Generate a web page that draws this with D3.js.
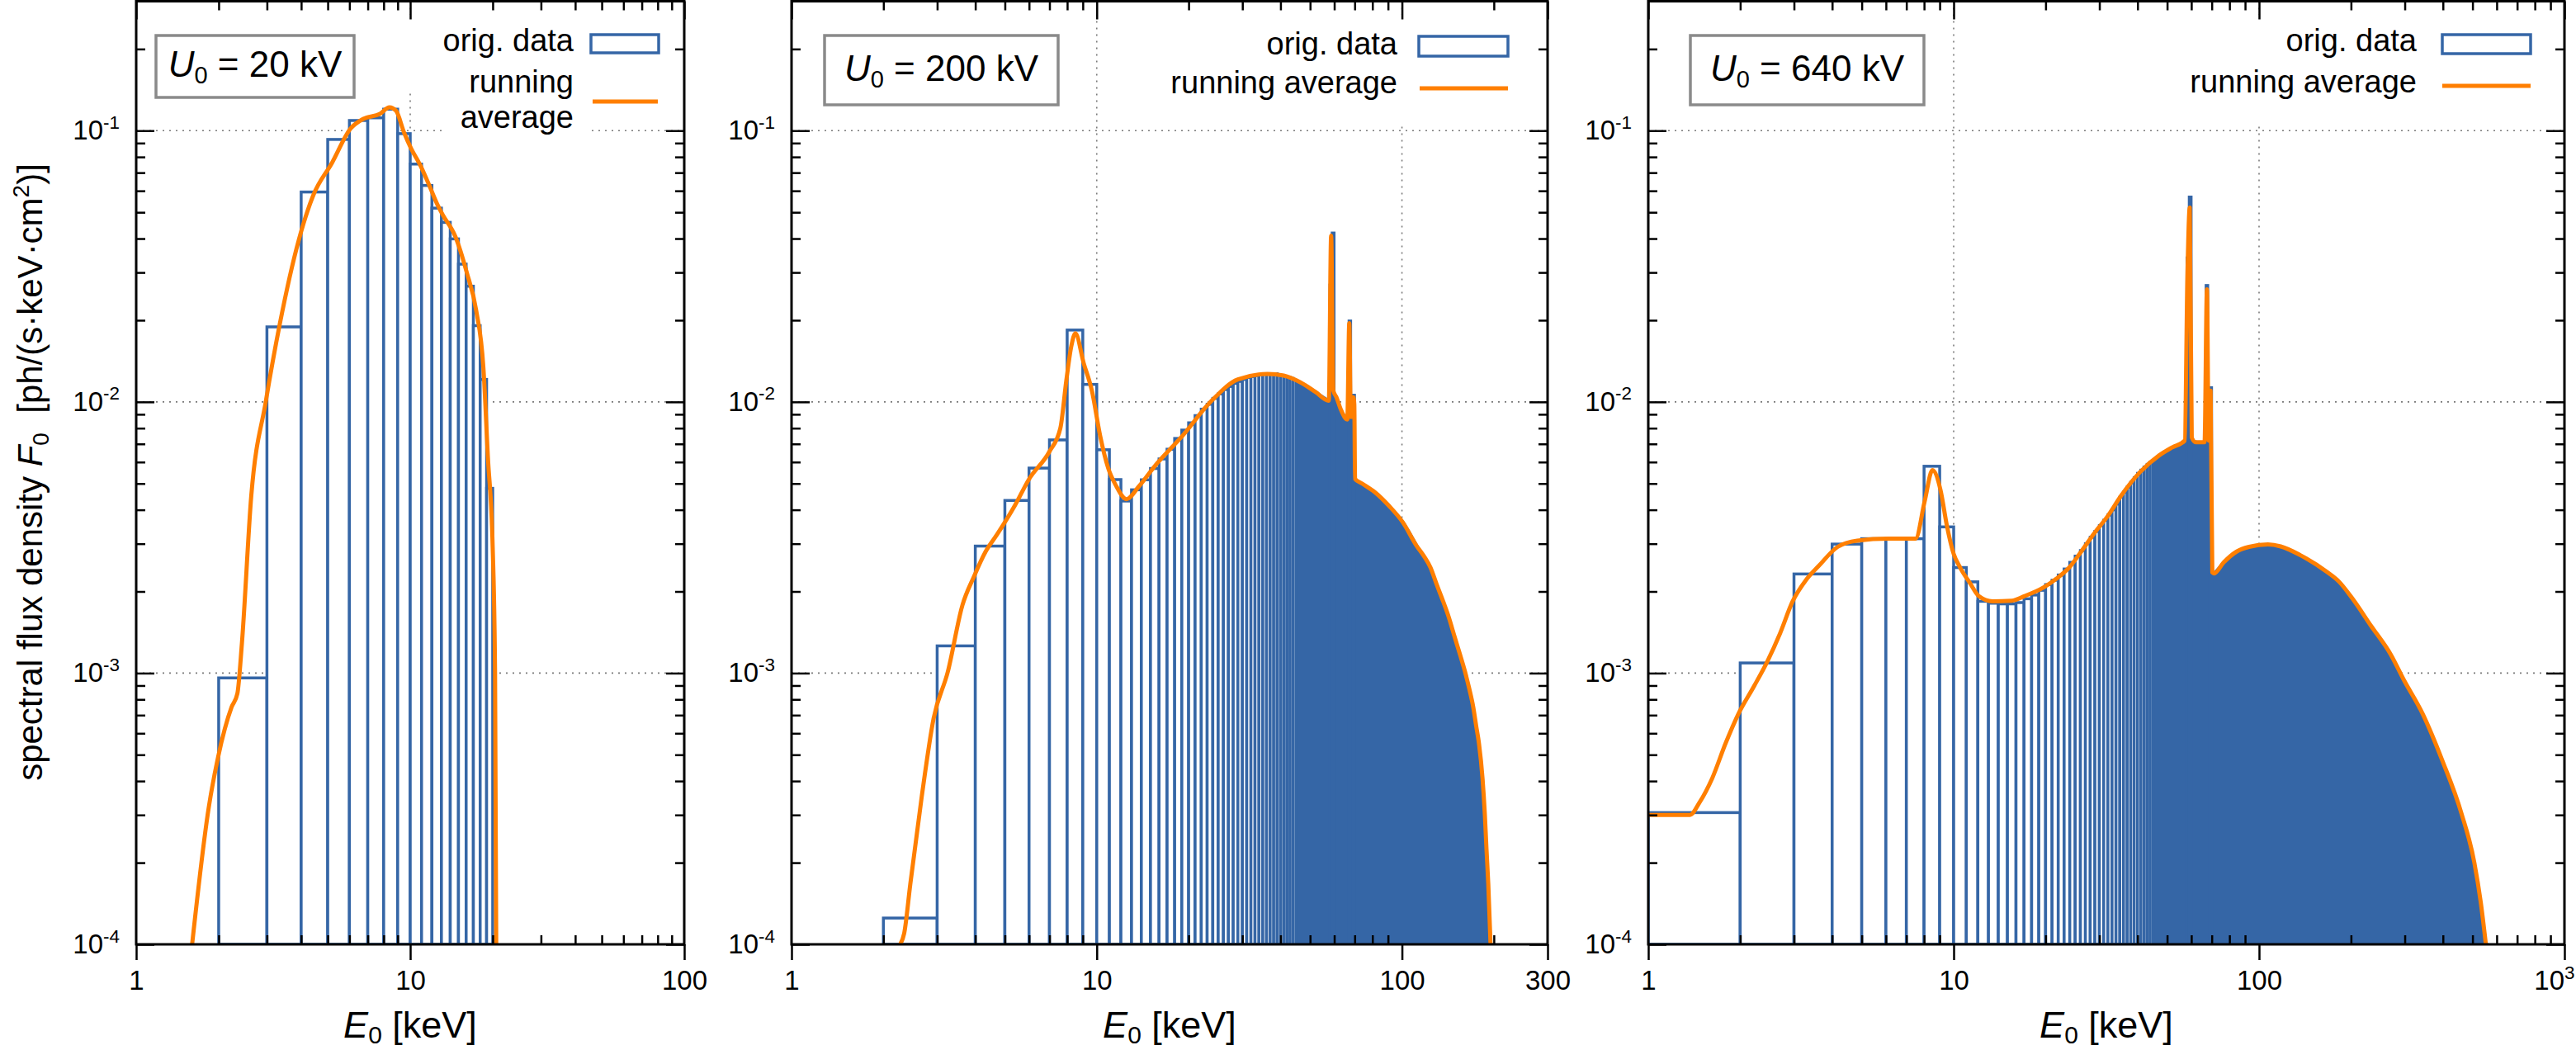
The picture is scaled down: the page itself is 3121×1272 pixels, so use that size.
<!DOCTYPE html>
<html>
<head>
<meta charset="utf-8">
<title>Spectral flux density</title>
<script src="https://cdn.jsdelivr.net/npm/d3@7"></script>
<style>
  body { margin: 0; background: #fff; }
  svg text { font-family: "Liberation Sans", Arial, sans-serif; fill: #000; }
</style>
</head>
<body>
<svg id="chart" width="3121" height="1272"></svg>
<script>
// ---------- data ----------
var binWidth = 1; // keV

// U0 = 20 kV
var bin1Lo  = [2, 3, 4, 5, 6, 7, 8, 9, 10, 11, 12, 13, 14, 15, 16, 17, 18, 19];
var bin1Val = [9.6e-4, 0.0189, 0.0594, 0.0928, 0.109, 0.1115, 0.120, 0.0975, 0.0753, 0.0628,
               0.0518, 0.0459, 0.0399, 0.0322, 0.0267, 0.0191, 0.0121, 0.0048];
var avg1E = [1.6, 1.84, 1.99, 2.23, 2.34, 2.43, 2.63, 2.97, 3.34, 3.92, 4.42, 5.18, 6.07, 6.74,
             7.75, 8.4, 8.87, 9.5, 10.1, 10.9, 11.7, 12.6, 13.15, 14.6, 16.1, 17.4, 18.5, 19.2,
             20.0, 20.4, 20.6];
var avg1V = [1.0e-4, 3.2e-4, 4.9e-4, 7.5e-4, 8.4e-4, 1.28e-3, 4.5e-3, 1.0e-2, 1.93e-2, 3.95e-2,
             5.75e-2, 7.6e-2, 0.102, 0.1105, 0.1153, 0.1219, 0.1185, 0.0983, 0.0855, 0.0743,
             0.0633, 0.0531, 0.0489, 0.0408, 0.0299, 0.0218, 0.0133, 6.3e-3, 2.9e-3, 1.0e-3, 1.0e-4];

// U0 = 200 kV
var bin2Lo  = [2, 3, 4, 5, 6, 7, 8, 9, 10, 11, 12, 13, 14, 15, 16, 17, 18, 19, 20, 21, 22, 23,
               24, 25, 26, 27, 28, 29, 30, 31, 32, 33, 34, 35, 36, 37, 38, 39, 40, 41, 42, 43, 44];
var bin2Val = [1.25e-4, 1.26e-3, 2.94e-3, 4.33e-3, 5.70e-3, 7.24e-3, 0.0184, 0.0116, 6.66e-3,
               5.17e-3, 4.31e-3, 4.74e-3, 5.16e-3, 5.68e-3, 6.16e-3, 6.69e-3, 7.33e-3, 7.87e-3,
               8.37e-3, 8.9e-3, 9.4e-3, 9.8e-3, 0.0103, 0.0107, 0.0111, 0.0114, 0.0117, 0.0119,
               0.0121, 0.0123, 0.0124, 0.0125, 0.0126, 0.0127, 0.0127, 0.0127, 0.0127, 0.0126,
               0.0125, 0.0124, 0.0123, 0.0122, 0.0120];
var spike2Lo  = [58, 59, 67, 69];
var spike2Val = [0.027, 0.042, 0.0199, 0.0106];
var dense2E = [45, 48, 51, 54, 57, 58, 60, 61, 62, 64, 66, 68, 69.9, 70, 74, 78, 82, 86, 91, 96,
               101, 106, 112, 118, 124, 130, 136, 142, 149, 155, 161, 166, 171, 175, 179, 184,
               187, 189, 192, 195, 197];
var dense2V = [0.0119, 0.0116, 0.0111, 0.0106, 0.0102, 0.0101, 0.0105, 0.0100, 0.0097, 0.0091,
               0.0087, 0.0086, 0.0086, 0.0052, 0.0050, 0.0048, 0.00463, 0.0044, 0.00413, 0.00385,
               0.0036, 0.0033, 0.00295, 0.0027, 0.00245, 0.00212, 0.00184, 0.00161, 0.00136,
               0.00117, 0.00101, 8.8e-4, 7.5e-4, 6.4e-4, 5.5e-4, 4.1e-4, 3.0e-4, 2.25e-4, 1.67e-4,
               1.0e-4, 7e-5];
var avg2E = [2.27, 2.34, 2.45, 2.67, 2.92, 3.25, 3.63, 3.96, 4.32, 4.72, 5.38, 6.0, 7.0, 7.6,
             7.95, 8.25, 8.51, 9.06, 9.64, 10.26, 10.9, 11.6, 12.5, 13.74, 15.5, 19.1, 23.6, 29,
             36.3, 41, 46.5, 52, 57.6, 58.6, 59.6, 61, 63, 66.2, 67.2, 68, 68.8, 69.3, 69.8, 70.2,
             74, 81.8, 90.8, 100.6, 111.6, 118, 124, 130, 136.4, 142.3, 148.8, 155, 161, 166,
             171.2, 175, 178.8, 183.6, 186.8, 189.2, 191.8, 195.1];
var avg2V = [1.0e-4, 1.1e-4, 1.67e-4, 3.5e-4, 6.8e-4, 1.01e-3, 1.78e-3, 2.27e-3, 2.8e-3, 3.25e-3,
             4.13e-3, 5.19e-3, 6.56e-3, 8.0e-3, 1.2e-2, 1.6e-2, 1.79e-2, 1.39e-2, 1.1e-2, 7.5e-3,
             5.7e-3, 4.88e-3, 4.38e-3, 4.88e-3, 5.8e-3, 7.5e-3, 1.0e-2, 1.21e-2, 1.268e-2, 1.25e-2,
             1.18e-2, 1.09e-2, 1.01e-2, 0.041, 0.011, 0.0104, 0.0094, 0.0086, 0.0195, 0.0088,
             0.0088, 0.0104, 0.0098, 5.2e-3, 5.0e-3, 4.63e-3, 4.13e-3, 3.6e-3, 2.95e-3, 2.7e-3,
             2.45e-3, 2.12e-3, 1.84e-3, 1.61e-3, 1.36e-3, 1.17e-3, 1.01e-3, 8.8e-4, 7.5e-4,
             6.4e-4, 5.5e-4, 4.1e-4, 3.04e-4, 2.25e-4, 1.67e-4, 1.0e-4];

// U0 = 640 kV
var bin3Lo  = [1, 2, 3, 4, 5, 6, 7, 8, 9, 10, 11, 12, 13, 14, 15, 16, 17, 18, 19, 20, 21, 22,
               23, 24, 25, 26, 27, 28, 29, 30, 31, 32, 33, 34, 35, 36, 37, 38, 39, 40, 41, 42,
               43, 44];
var bin3Val = [3.06e-4, 1.09e-3, 2.32e-3, 2.99e-3, 3.13e-3, 3.13e-3, 3.13e-3, 5.79e-3, 3.46e-3,
               2.45e-3, 2.17e-3, 1.84e-3, 1.81e-3, 1.80e-3, 1.80e-3, 1.82e-3, 1.88e-3, 1.94e-3,
               2.02e-3, 2.12e-3, 2.20e-3, 2.30e-3, 2.42e-3, 2.56e-3, 2.70e-3, 2.83e-3, 3.00e-3,
               3.17e-3, 3.33e-3, 3.50e-3, 3.66e-3, 3.83e-3, 4.00e-3, 4.20e-3, 4.45e-3, 4.65e-3,
               4.85e-3, 5.05e-3, 5.25e-3, 5.45e-3, 5.60e-3, 5.75e-3, 5.88e-3, 6.00e-3];
var spike3Lo  = [58, 59, 67, 69];
var spike3Val = [0.034, 0.057, 0.0269, 0.0113];
var dense3E = [45, 47, 50, 53, 56, 60, 63, 66, 69.9, 70, 71, 76.6, 84.2, 92.7, 107, 117.8, 136.6,
               166, 183, 201, 233, 270, 297, 344, 398, 460, 507, 532, 553, 558];
var dense3V = [6.1e-3, 6.35e-3, 6.6e-3, 6.85e-3, 7.1e-3, 7.2e-3, 7.1e-3, 7.1e-3, 7.1e-3, 2.35e-3,
               2.33e-3, 2.56e-3, 2.8e-3, 2.92e-3, 2.98e-3, 2.93e-3, 2.72e-3, 2.37e-3, 2.17e-3,
               1.90e-3, 1.49e-3, 1.17e-3, 9.5e-4, 7.05e-4, 4.77e-4, 3.04e-4, 2.0e-4, 1.43e-4,
               1.0e-4, 8e-5];
var avg3E = [1.0, 1.37, 1.47, 1.62, 1.79, 1.97, 2.22, 2.45, 2.70, 2.97, 3.28, 3.61, 4.17, 4.83,
             6.16, 7.5, 8.04, 8.52, 9.06, 9.5, 10.0, 10.5, 11.3, 12.1, 13.4, 15.5, 17.0, 19.7,
             21.7, 23.9, 26.3, 29.0, 32, 35.3, 40.7, 47.1, 52, 57.1, 58.3, 59.3, 60.2, 62, 66.3,
             67.5, 68.4, 69.4, 70.3, 71.2, 76.6, 84.2, 92.7, 107, 117.8, 136.6, 166, 183, 201,
             233, 270, 297, 344, 398, 460, 507, 532, 553];
var avg3V = [3.0e-4, 3.0e-4, 3.33e-4, 4.1e-4, 5.5e-4, 7.05e-4, 8.95e-4, 1.10e-3, 1.40e-3, 1.84e-3,
             2.2e-3, 2.48e-3, 2.92e-3, 3.08e-3, 3.13e-3, 3.13e-3, 4.31e-3, 5.6e-3, 4.72e-3, 3.5e-3,
             2.75e-3, 2.45e-3, 2.15e-3, 1.92e-3, 1.84e-3, 1.85e-3, 1.92e-3, 2.07e-3, 2.23e-3,
             2.45e-3, 2.83e-3, 3.3e-3, 3.8e-3, 4.5e-3, 5.5e-3, 6.35e-3, 6.8e-3, 7.2e-3, 0.030,
             0.052, 7.4e-3, 7.1e-3, 7.1e-3, 0.026, 7.2e-3, 0.0110, 2.35e-3, 2.33e-3, 2.56e-3,
             2.8e-3, 2.92e-3, 2.98e-3, 2.93e-3, 2.72e-3, 2.37e-3, 2.17e-3, 1.90e-3, 1.49e-3,
             1.17e-3, 9.5e-4, 7.05e-4, 4.77e-4, 3.04e-4, 2.0e-4, 1.43e-4, 1.0e-4];

// axes
var tubeVoltage = ["20 kV", "200 kV", "640 kV"];
var xTickVals = [[1, 10, 100], [1, 10, 100, 300], [1, 10, 100, 1000]];
var xTickText = [["1", "10", "100"], ["1", "10", "100", "300"], ["1", "10", "100", "10^3"]];
var yTickVals = [1e-4, 1e-3, 1e-2, 1e-1];
var yTickText = ["10^-4", "10^-3", "10^-2", "10^-1"];

// ---------- layout ----------
var W = 3121;
var blue = "#3566a6", orange = "#ff7f00", gridGray = "#7a7a7a";
var yTop = 1.5, yBot = 1144;
var y = d3.scaleLog().domain([1e-4, 0.3]).range([yBot, yTop]);

var panels = [
  { x0: 165, x1: 829, bins: d3.zip(bin1Lo, bin1Val), spikes: [], dense: [],
    avg: d3.zip(avg1E, avg1V),
    box: [189, 43, 240, 75], boxBase: 93,
    key: { bg: [485, 18, 325, 95], textRight: 695, row1: 62, rect: [716, 42, 82, 22],
           lines: ["running", "average"], lineBase: [112, 155], lineY: 123, lineX: [718, 797] } },
  { x0: 959, x1: 1875, bins: d3.zip(bin2Lo, bin2Val), spikes: d3.zip(spike2Lo, spike2Val),
    dense: d3.zip(dense2E, dense2V), avg: d3.zip(avg2E, avg2V),
    box: [999, 43, 283, 84], boxBase: 98,
    key: { bg: [1380, 18, 470, 134], textRight: 1693, row1: 66, rect: [1719, 44, 108, 24],
           lines: ["running average"], lineBase: [113], lineY: 107, lineX: [1720, 1827] } },
  { x0: 1997, x1: 3107, bins: d3.zip(bin3Lo, bin3Val), spikes: d3.zip(spike3Lo, spike3Val),
    dense: d3.zip(dense3E, dense3V), avg: d3.zip(avg3E, avg3V),
    box: [2048, 43, 283, 84], boxBase: 98,
    key: { bg: [2615, 18, 470, 134], textRight: 2928, row1: 62, rect: [2959, 42, 107, 23],
           lines: ["running average"], lineBase: [112], lineY: 104, lineX: [2959, 3066] } }
];

var svg = d3.select("#chart");

// writes "10^-3" as base + superscript
function supLabel(sel, str) {
  var parts = str.split("^");
  sel.text(null);
  sel.append("tspan").text(parts[0]);
  if (parts[1]) sel.append("tspan").attr("dy", "-0.6em").attr("font-size", "0.68em").text(parts[1]);
}

function minorTicks(dom) {
  var out = [];
  for (var p = 1; p < dom[1]; p *= 10)
    for (var m = 2; m <= 9; m++)
      if (m * p < dom[1] - 1e-9) out.push(m * p);
  return out;
}

var yMinor = [];
[1e-4, 1e-3, 1e-2, 1e-1].forEach(function (p) {
  for (var m = 2; m <= 9; m++) if (m * p < 0.299) yMinor.push(m * p);
});

panels.forEach(function (p, i) {
  var x = d3.scaleLog().domain([1, xTickVals[i][xTickVals[i].length - 1]]).range([p.x0, p.x1]);
  var g = svg.append("g");

  g.append("clipPath").attr("id", "clip" + i)
    .append("rect").attr("x", p.x0).attr("y", yTop).attr("width", p.x1 - p.x0).attr("height", yBot - yTop);

  // grid
  var grid = g.append("g").attr("stroke", gridGray).attr("stroke-width", 1.6).attr("stroke-dasharray", "2,6");
  [1e-1, 1e-2, 1e-3].forEach(function (v) {
    grid.append("line").attr("x1", p.x0).attr("x2", p.x1).attr("y1", y(v)).attr("y2", y(v));
  });
  xTickVals[i].slice(1, -1).forEach(function (v) {
    grid.append("line").attr("x1", x(v)).attr("x2", x(v)).attr("y1", yTop).attr("y2", yBot);
  });

  var data = g.append("g").attr("clip-path", "url(#clip" + i + ")");

  // original data: 1 keV boxes
  data.selectAll("rect.bin").data(p.bins).enter().append("rect").attr("class", "bin")
    .attr("x", function (d) { return x(d[0]); })
    .attr("width", function (d) { return x(d[0] + binWidth) - x(d[0]); })
    .attr("y", function (d) { return y(d[1]); })
    .attr("height", function (d) { return yBot - y(d[1]); })
    .attr("fill", "#fff").attr("stroke", blue).attr("stroke-width", 3.5);

  // densely packed boxes at high energy merge into a solid area
  if (p.dense.length) {
    var area = d3.area().x(function (d) { return x(d[0]); }).y0(yBot).y1(function (d) { return y(d[1]); });
    data.append("path").datum(p.dense).attr("d", area)
      .attr("fill", blue).attr("stroke", blue).attr("stroke-width", 3);
  }
  data.selectAll("rect.spike").data(p.spikes).enter().append("rect").attr("class", "spike")
    .attr("x", function (d) { return x(d[0]); })
    .attr("width", function (d) { return x(d[0] + binWidth) - x(d[0]); })
    .attr("y", function (d) { return y(d[1]); })
    .attr("height", function (d) { return yBot - y(d[1]); })
    .attr("fill", blue).attr("stroke", blue).attr("stroke-width", 3);

  // running average
  var line = d3.line().x(function (d) { return x(d[0]); }).y(function (d) { return y(d[1]); })
    .curve(d3.curveMonotoneX);
  data.append("path").datum(p.avg).attr("d", line)
    .attr("fill", "none").attr("stroke", orange).attr("stroke-width", 5).attr("stroke-linejoin", "round");

  // key
  var k = p.key;
  var kg = g.append("g");
  kg.append("rect").attr("x", k.bg[0]).attr("y", k.bg[1]).attr("width", k.bg[2]).attr("height", k.bg[3]).attr("fill", "#fff");
  var kt = kg.append("g").attr("font-size", 38).attr("text-anchor", "end");
  kt.append("text").attr("x", k.textRight).attr("y", k.row1).text("orig. data");
  k.lines.forEach(function (s, j) {
    kt.append("text").attr("x", k.textRight).attr("y", k.lineBase[j]).text(s);
  });
  kt.selectAll("text").each(function () {
    var b = this.getBBox();
    kg.insert("rect", "g").attr("x", b.x - 18).attr("y", b.y).attr("width", b.width + 36)
      .attr("height", b.height).attr("fill", "#fff");
  });
  kg.append("rect").attr("x", k.rect[0]).attr("y", k.rect[1]).attr("width", k.rect[2]).attr("height", k.rect[3])
    .attr("fill", "#fff").attr("stroke", blue).attr("stroke-width", 3.5);
  kg.append("line").attr("x1", k.lineX[0]).attr("x2", k.lineX[1]).attr("y1", k.lineY).attr("y2", k.lineY)
    .attr("stroke", orange).attr("stroke-width", 5);

  // tube voltage box
  g.append("rect").attr("x", p.box[0]).attr("y", p.box[1]).attr("width", p.box[2]).attr("height", p.box[3])
    .attr("fill", "#fff").attr("stroke", "#8a8a8a").attr("stroke-width", 3.5);
  var ut = g.append("text").attr("x", p.box[0] + p.box[2] / 2).attr("y", p.boxBase)
    .attr("text-anchor", "middle").attr("font-size", 44);
  ut.append("tspan").attr("font-style", "italic").text("U");
  ut.append("tspan").attr("font-size", 29).attr("dy", 8).text("0");
  ut.append("tspan").attr("dy", -8).text(" = " + tubeVoltage[i]);

  // frame
  g.append("rect").attr("x", p.x0).attr("y", yTop).attr("width", p.x1 - p.x0).attr("height", yBot - yTop)
    .attr("fill", "none").attr("stroke", "#000").attr("stroke-width", 3);

  // ticks
  var xMinor = minorTicks(x.domain());
  var axes = g.append("g");
  function tickAxis(axis, tx, ty) {
    var a = axes.append("g").attr("transform", "translate(" + tx + "," + ty + ")").call(axis)
      .attr("font-size", 33).attr("font-family", null);
    a.select(".domain").remove();
    a.selectAll("line").attr("stroke-width", 2.5);
    return a;
  }
  var bx = tickAxis(d3.axisBottom(x).tickValues(xTickVals[i]).tickSize(19).tickPadding(13)
    .tickFormat(function (d, j) { return xTickText[i][j]; }), 0, yBot);
  bx.selectAll(".tick text").each(function (d, j) {
    supLabel(d3.select(this), xTickText[i][j]);
    // keep the last label inside the picture
    var b = this.getBBox(), over = x(d) + b.x + b.width - (W - 2);
    if (over > 0) d3.select(this).attr("x", -over);
  });
  tickAxis(d3.axisTop(x).tickValues(xMinor).tickSize(11).tickFormat(""), 0, yBot);
  tickAxis(d3.axisBottom(x).tickValues(xTickVals[i]).tickSize(22).tickFormat(""), 0, yTop);
  tickAxis(d3.axisBottom(x).tickValues(xMinor).tickSize(11).tickFormat(""), 0, yTop);
  tickAxis(d3.axisRight(y).tickValues(yTickVals).tickSize(22).tickFormat(""), p.x0, 0);
  tickAxis(d3.axisRight(y).tickValues(yMinor).tickSize(11).tickFormat(""), p.x0, 0);
  tickAxis(d3.axisLeft(y).tickValues(yTickVals).tickSize(22).tickFormat(""), p.x1, 0);
  tickAxis(d3.axisLeft(y).tickValues(yMinor).tickSize(11).tickFormat(""), p.x1, 0);
  var ly = tickAxis(d3.axisLeft(y).tickValues(yTickVals).tickSize(0).tickPadding(20)
    .tickFormat(function (d, j) { return yTickText[j]; }), p.x0, 0);
  ly.selectAll(".tick text").each(function (d, j) { supLabel(d3.select(this), yTickText[j]); });

  // x title
  var xt = g.append("text").attr("x", (p.x0 + p.x1) / 2).attr("y", 1257)
    .attr("text-anchor", "middle").attr("font-size", 45);
  xt.append("tspan").attr("font-style", "italic").text("E");
  xt.append("tspan").attr("font-size", 30).attr("dy", 7).text("0");
  xt.append("tspan").attr("dy", -7).text(" [keV]");
});

// y title
var yt = svg.append("text").attr("transform", "translate(51,572) rotate(-90)")
  .attr("text-anchor", "middle").attr("font-size", 42);
yt.append("tspan").text("spectral flux density ");
yt.append("tspan").attr("font-style", "italic").text("F");
yt.append("tspan").attr("font-size", 28).attr("dy", 8).text("0");
yt.append("tspan").attr("dy", -8).text("\u00a0 [ph/(s\u00b7keV\u00b7cm");
yt.append("tspan").attr("font-size", 28).attr("dy", -16).text("2");
yt.append("tspan").attr("dy", 16).text(")]");
</script>
</body>
</html>
